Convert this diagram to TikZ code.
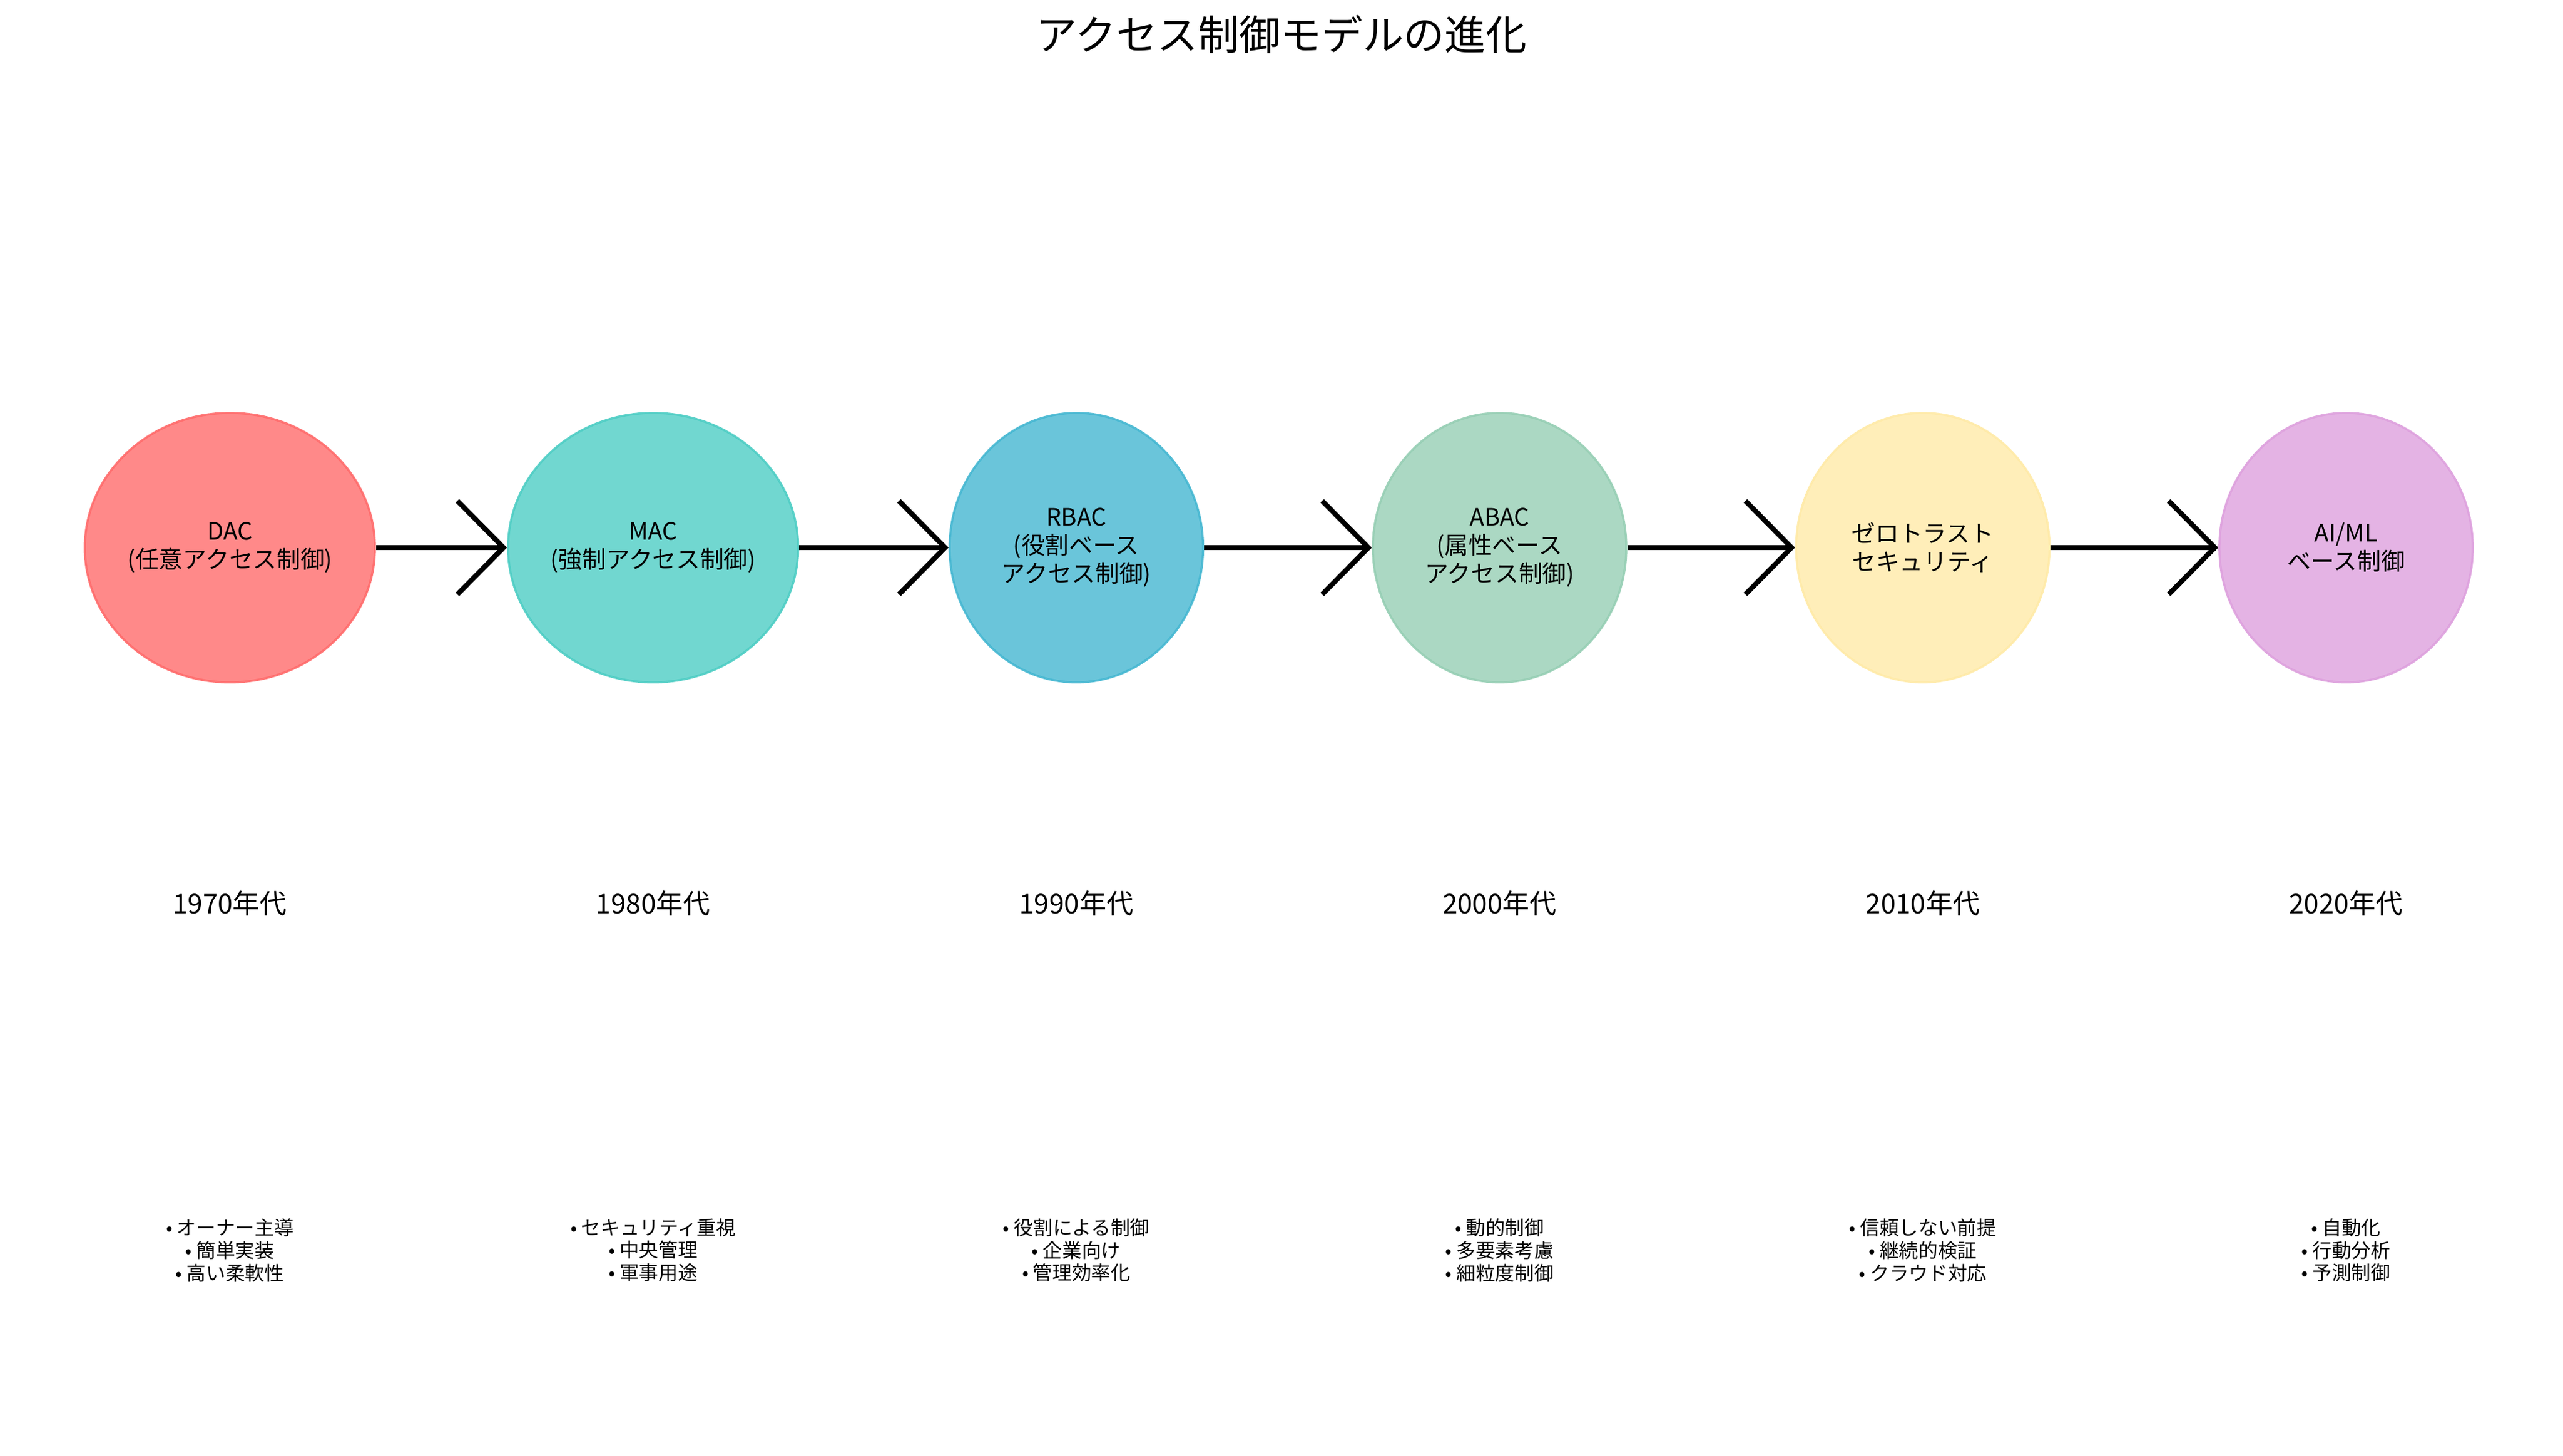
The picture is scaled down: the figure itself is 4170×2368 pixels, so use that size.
\documentclass[tikz,border=0pt]{standalone}
\usepackage{fontspec}
\usetikzlibrary{shapes.geometric,arrows.meta}
\setmainfont{Noto Sans CJK JP}
\definecolor{c1}{HTML}{FF6B6B}
\definecolor{c2}{HTML}{4ECDC4}
\definecolor{c3}{HTML}{45B7D1}
\definecolor{c4}{HTML}{96CEB4}
\definecolor{c5}{HTML}{FFEAA7}
\definecolor{c6}{HTML}{DDA0DD}
\begin{document}
\begin{tikzpicture}[x=0.01cm,y=-0.01cm,
  bub/.style={draw=#1,line width=1pt,fill=#1,fill opacity=0.8,draw opacity=0.9,text opacity=1,
    minimum width=4.12cm,minimum height=4.38cm,ellipse,inner sep=0pt,align=center,
    font=\fontsize{11}{13}\selectfont},
  conn/.style={line width=2.3pt,-{Straight Barb[length=0.75cm,width=1.52cm,line width=2.3pt]}},
  yr/.style={font=\fontsize{12.5}{15}\selectfont},
  feat/.style={align=center,font=\fontsize{9}{10.5}\selectfont}]
\useasboundingbox (0,0) rectangle (4170,2368);
\node[font=\fontsize{19}{23}\selectfont] (title) at (2085,56) {アクセス制御モデルの進化};
\foreach \i/\c/\t/\y/\f in {
 0/c1/{DAC\\(任意アクセス制御)}/1970/{• オーナー主導\\• 簡単実装\\• 高い柔軟性},
 1/c2/{MAC\\(強制アクセス制御)}/1980/{• セキュリティ重視\\• 中央管理\\• 軍事用途},
 2/c3/{RBAC\\(役割ベース\\アクセス制御)}/1990/{• 役割による制御\\• 企業向け\\• 管理効率化},
 3/c4/{ABAC\\(属性ベース\\アクセス制御)}/2000/{• 動的制御\\• 多要素考慮\\• 細粒度制御},
 4/c5/{ゼロトラスト\\セキュリティ}/2010/{• 信頼しない前提\\• 継続的検証\\• クラウド対応},
 5/c6/{AI/ML\\ベース制御}/2020/{• 自動化\\• 行動分析\\• 予測制御}}{
  \node[bub=\c] (m\i) at ({374+688.6*\i},891) {\t};
  \node[yr] (y\i) at ({374+688.6*\i},1470) {\y 年代};
  \node[feat] (f\i) at ({374+688.6*\i},2034) {\f};
}
\foreach \a/\b in {0/1,1/2,2/3,3/4,4/5}{
  \draw[conn] (m\a) -- (m\b);
}
\end{tikzpicture}
\end{document}
